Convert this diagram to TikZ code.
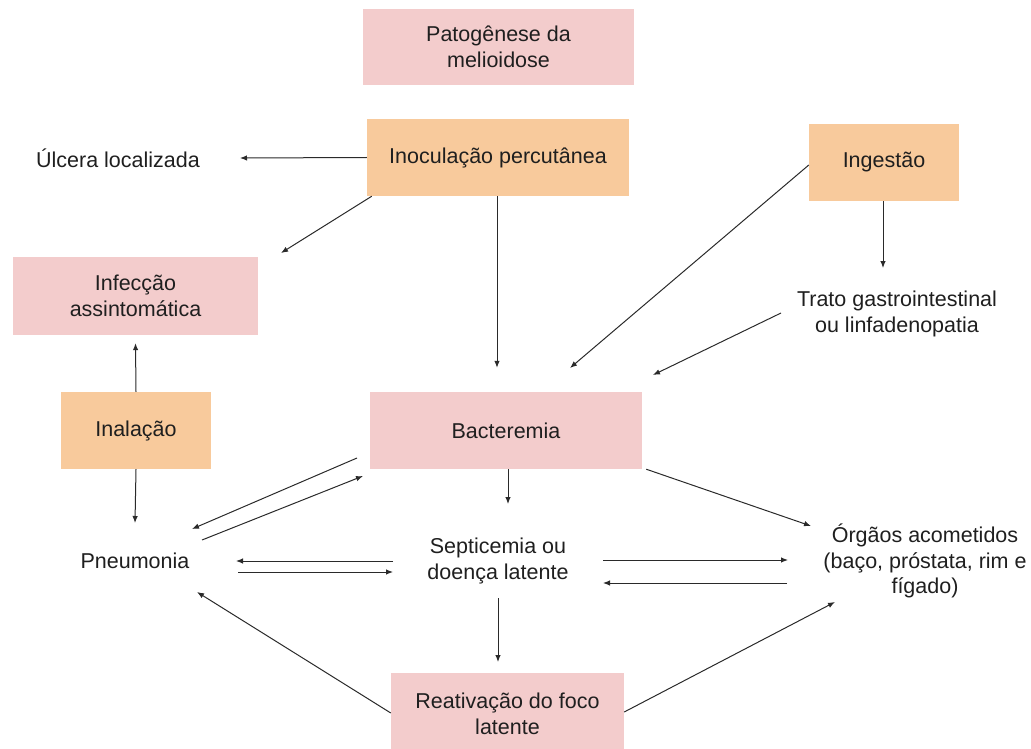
\documentclass[tikz,border=0pt]{standalone}
\usepackage{fontspec}
\setmainfont{Liberation Sans}
\usetikzlibrary{arrows.meta}
\definecolor{pinkbox}{HTML}{F3CCCC}
\definecolor{orangebox}{HTML}{F8CA9C}
\definecolor{txt}{HTML}{1F1F1F}
\definecolor{ln}{HTML}{2A2A2A}
\begin{document}
\begin{tikzpicture}[x=1pt,y=-1pt,
  every node/.style={font=\fontsize{21.5}{25.5}\selectfont, text=txt, align=center, inner sep=0pt},
  pinkb/.style={fill=pinkbox, minimum width=#1},
  orangeb/.style={fill=orangebox, minimum width=#1},
  lbl/.style={},
  arr/.style={draw=ln, line width=1pt, -{Latex[length=7pt,width=5.5pt]}}
]
\useasboundingbox (0,0) rectangle (1031,749);
\clip (0,0) rectangle (1031,749);
% boxes
\node[pinkb=271pt, minimum height=76pt] (title) at (498.5,47) {Patogênese da\\melioidose};
\node[orangeb=262pt, minimum height=77pt] (inoc) at (498,157.5) {Inoculação percutânea};
\node[orangeb=150pt, minimum height=77pt] (ing) at (884,162.5) {Ingestão};
\node[pinkb=245pt, minimum height=78pt] (inf) at (135.5,296) {Infecção\\assintomática};
\node[orangeb=150pt, minimum height=77pt] (inal) at (136,430.5) {Inalação};
\node[pinkb=272pt, minimum height=77pt] (bact) at (506,430.5) {Bacteremia};
\node[pinkb=233pt, minimum height=82pt] (reat) at (507.5,714) {Reativação do foco\\latente};
% text nodes
\node[lbl] (ulc) at (118,158) {Úlcera localizada};
\node[lbl] (trato) at (897,314) {Trato gastrointestinal\\ou linfadenopatia};
\node[lbl] (pneu) at (135,561) {Pneumonia};
\node[lbl] (sept) at (498,561) {Septicemia ou\\doença latente};
\node[lbl] (org) at (925,561) {Órgãos acometidos\\(baço, próstata, rim e\\fígado)};
% connectors
\draw[arr] (inoc.west) -- ([shift={(122,0)}]ulc.center);
\draw[arr] ([shift={(5,0)}]inoc.south west) -- ([shift={(145.5,-43)}]inf.center);
\draw[arr] ([shift={(-1,0)}]inoc.south) -- ([shift={(-9,-24)}]bact.north);
\draw[arr] ([shift={(0,2.5)}]ing.west) -- ([shift={(64,-62.5)}]bact.center);
\draw[arr] ([shift={(-1,0)}]ing.south) -- ([shift={(-14,-46)}]trato.center);
\draw[arr] ([shift={(-116,-1)}]trato.center) -- ([shift={(147,-55.5)}]bact.center);
\draw[arr] (inal.north) -- ([shift={(0,8)}]inf.south);
\draw[arr] (inal.south) -- ([shift={(0,-38)}]pneu.center);
\draw[arr] ([shift={(-149,27.5)}]bact.center) -- ([shift={(57,-32)}]pneu.center);
\draw[arr] ([shift={(67,-21)}]pneu.center) -- ([shift={(-143,45.5)}]bact.center);
\draw[arr] ([shift={(-105,0)}]sept.center) -- ([shift={(101,0)}]pneu.center);
\draw[arr] ([shift={(103,11)}]pneu.center) -- ([shift={(-105,11)}]sept.center);
\draw[arr] ([shift={(2,0)}]bact.south) -- ([shift={(10,-57)}]sept.center);
\draw[arr] ([shift={(0,37)}]sept.center) -- ([shift={(-9.5,-52)}]reat.center);
\draw[arr] ([shift={(4,0)}]bact.south east) -- ([shift={(-114,-35)}]org.center);
\draw[arr] ([shift={(105,-1)}]sept.center) -- ([shift={(-137,-1)}]org.center);
\draw[arr] ([shift={(-138,22)}]org.center) -- ([shift={(105,22)}]sept.center);
\draw[arr] ([shift={(0,-1)}]reat.west) -- ([shift={(62,31)}]pneu.center);
\draw[arr] ([shift={(0,-2)}]reat.east) -- ([shift={(-90,41)}]org.center);
\end{tikzpicture}
\end{document}
